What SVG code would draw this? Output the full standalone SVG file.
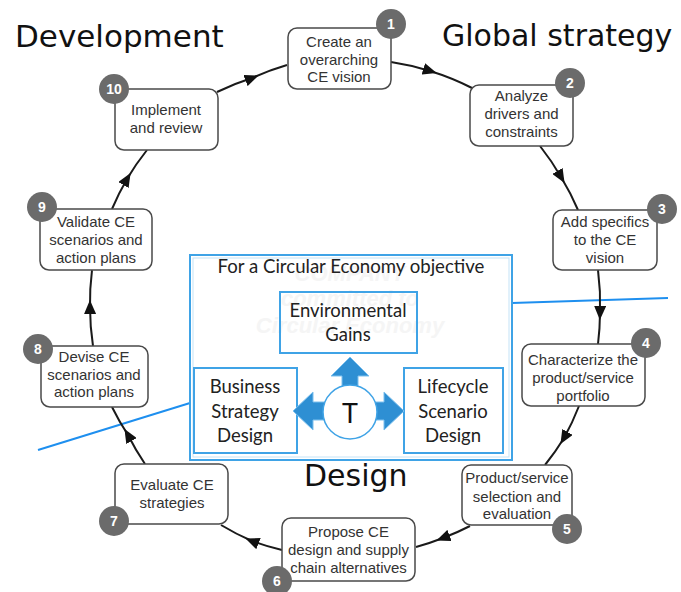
<svg xmlns="http://www.w3.org/2000/svg" width="681" height="592" viewBox="0 0 681 592">
<defs>
<style>
.title{font-family:"DejaVu Sans",sans-serif;font-size:30px;fill:#111}
.box{fill:#fff;stroke:#4a4a4a;stroke-width:1.5}
.lbl{font-family:"Liberation Sans",Arial,sans-serif;font-size:15px;fill:#333;text-anchor:middle}
.badge{fill:#6b6b6b}
.num{font-family:"Liberation Sans",Arial,sans-serif;font-size:14px;font-weight:bold;fill:#fff;text-anchor:middle}
.conn{fill:none;stroke:#1a1a1a;stroke-width:2;marker-mid:url(#arr)}
.bbox{fill:#fff;stroke:#3fa3e6;stroke-width:2}
.bin{fill:none;stroke:#c4e3f7;stroke-width:1}
.btxt{font-family:Lato,"Open Sans",sans-serif;font-size:18.5px;fill:#222;text-anchor:middle}
.wm{font-family:"Liberation Sans",Arial,sans-serif;font-size:22px;font-weight:bold;font-style:italic;fill:#f5f5f5;text-anchor:middle}
.blarr{fill:#2e8fd3;stroke:#7cc0ee;stroke-width:1}
.bline{stroke:#1e8fef;stroke-width:2;fill:none}
</style>
<marker id="arr" markerUnits="userSpaceOnUse" markerWidth="14" markerHeight="12" refX="7" refY="6" orient="auto">
<path d="M0,0 L14,6 L0,12 z" fill="#111"/>
</marker>
</defs>
<rect width="681" height="592" fill="#fff"/>

<g id="titles">
<text class="title" x="15" y="47" style="font-size:31px">Development</text>
<text class="title" x="442" y="46">Global strategy</text>
<text class="title" x="304" y="486">Design</text>
</g>

<g id="blue-lines">
<line class="bline" x1="512" y1="303" x2="668" y2="298"/>
<line class="bline" x1="38" y1="450" x2="190" y2="403"/>
</g>

<g id="center">
<rect class="bbox" x="190" y="255" width="322" height="205"/>
<rect class="bin" x="193" y="258" width="316" height="199"/>
<text class="wm" x="350" y="281">COMPANY</text>
<text class="wm" x="350" y="306">committed to</text>
<text class="wm" x="350" y="333">Circular Economy</text>
<text class="btxt" x="351" y="273" style="font-size:18.6px">For a Circular Economy objective</text>
<g id="env">
<rect x="280" y="292" width="137" height="61" fill="none" stroke="#3fa3e6" stroke-width="2"/>
<text class="btxt" x="348" y="317">Environmental</text>
<text class="btxt" x="348" y="341">Gains</text>
</g>
<g id="bsd">
<rect x="194" y="368" width="103" height="85" fill="none" stroke="#3fa3e6" stroke-width="2"/>
<text class="btxt" x="245" y="393">Business</text>
<text class="btxt" x="245" y="418">Strategy</text>
<text class="btxt" x="245" y="442">Design</text>
</g>
<g id="lsd">
<rect x="404" y="368" width="99" height="85" fill="none" stroke="#3fa3e6" stroke-width="2"/>
<text class="btxt" x="453" y="393">Lifecycle</text>
<text class="btxt" x="453" y="418">Scenario</text>
<text class="btxt" x="453" y="442">Design</text>
</g>
<g id="t-hub">
<path class="blarr" d="M350,357 L369,376 L358,376 L358,392 L342,392 L342,376 L331,376 Z"/>
<path class="blarr" d="M293,411 L313,392 L313,402 L330,402 L330,420 L313,420 L313,430 Z"/>
<path class="blarr" d="M404,411 L384,392 L384,402 L368,402 L368,420 L384,420 L384,430 Z"/>
<circle cx="350" cy="412" r="27" fill="#fff" stroke="#3fa3e6" stroke-width="1.5"/>
<text x="350" y="423" style="font-family:Lato,'Open Sans',sans-serif;font-size:27px;fill:#111;text-anchor:middle">T</text>
</g>
</g>

<g id="connectors">
<path class="conn" d="M217,92 A260,260 0 0 1 252,78 A260,260 0 0 1 287,65"/>
<path class="conn" d="M391,62 A260,260 0 0 1 430,71 A260,260 0 0 1 472,88"/>
<path class="conn" d="M540,146 A260,260 0 0 1 561,177 A260,260 0 0 1 578,210"/>
<path class="conn" d="M598,270 A260,260 0 0 1 600,313 A260,260 0 0 1 598,344"/>
<path class="conn" d="M579,406 A260,260 0 0 1 564,438 A260,260 0 0 1 545,465"/>
<path class="conn" d="M470,526 A260,260 0 0 1 443,538 A260,260 0 0 1 416,547"/>
<path class="conn" d="M282,550 A260,260 0 0 1 252,541 A260,260 0 0 1 221,525"/>
<path class="conn" d="M145,464 A260,260 0 0 1 128,435 A260,260 0 0 1 112,407"/>
<path class="conn" d="M93,346 A260,260 0 0 1 90,307 A260,260 0 0 1 92,270"/>
<path class="conn" d="M112,209 A260,260 0 0 1 127,179 A260,260 0 0 1 147,150"/>
</g>

<g id="n1">
<rect class="box" x="288" y="28" width="103" height="61" rx="9"/>
<text class="lbl" x="339" y="47">Create an</text>
<text class="lbl" x="339" y="64.5">overarching</text>
<text class="lbl" x="339" y="82">CE vision</text>
<circle class="badge" cx="391" cy="24" r="15"/><text class="num" x="391" y="29">1</text>
</g>
<g id="n2">
<rect class="box" x="470" y="85" width="103" height="61" rx="9"/>
<text class="lbl" x="521.5" y="101">Analyze</text>
<text class="lbl" x="521.5" y="119">drivers and</text>
<text class="lbl" x="521.5" y="137">constraints</text>
<circle class="badge" cx="570" cy="83" r="15"/><text class="num" x="570" y="88">2</text>
</g>
<g id="n3">
<rect class="box" x="553" y="210" width="104" height="60" rx="9"/>
<text class="lbl" x="605" y="227">Add specifics</text>
<text class="lbl" x="605" y="245">to the CE</text>
<text class="lbl" x="605" y="263">vision</text>
<circle class="badge" cx="662" cy="209" r="15"/><text class="num" x="662" y="214">3</text>
</g>
<g id="n4">
<rect class="box" x="522" y="344" width="123" height="62" rx="9"/>
<text class="lbl" x="583" y="365">Characterize the</text>
<text class="lbl" x="583" y="383">product/service</text>
<text class="lbl" x="583" y="401">portfolio</text>
<circle class="badge" cx="646" cy="343" r="15"/><text class="num" x="646" y="348">4</text>
</g>
<g id="n5">
<rect class="box" x="462" y="465" width="110" height="60" rx="9"/>
<text class="lbl" x="517" y="483">Product/service</text>
<text class="lbl" x="517" y="502">selection and</text>
<text class="lbl" x="517" y="519">evaluation</text>
<circle class="badge" cx="567" cy="529" r="15"/><text class="num" x="567" y="534">5</text>
</g>
<g id="n6">
<rect class="box" x="282" y="518" width="133" height="63" rx="9"/>
<text class="lbl" x="348.5" y="537">Propose CE</text>
<text class="lbl" x="348.5" y="555">design and supply</text>
<text class="lbl" x="348.5" y="573">chain alternatives</text>
<circle class="badge" cx="277" cy="581" r="15"/><text class="num" x="277" y="586">6</text>
</g>
<g id="n7">
<rect class="box" x="115" y="464" width="113" height="60" rx="9"/>
<text class="lbl" x="172" y="490">Evaluate CE</text>
<text class="lbl" x="172" y="508">strategies</text>
<circle class="badge" cx="114" cy="521" r="15"/><text class="num" x="114" y="526">7</text>
</g>
<g id="n8">
<rect class="box" x="41" y="346" width="107" height="61" rx="9"/>
<text class="lbl" x="94" y="362">Devise CE</text>
<text class="lbl" x="94" y="380">scenarios and</text>
<text class="lbl" x="94" y="397">action plans</text>
<circle class="badge" cx="38" cy="349" r="15"/><text class="num" x="38" y="354">8</text>
</g>
<g id="n9">
<rect class="box" x="40" y="209" width="112" height="61" rx="9"/>
<text class="lbl" x="96" y="227">Validate CE</text>
<text class="lbl" x="96" y="245">scenarios and</text>
<text class="lbl" x="96" y="263">action plans</text>
<circle class="badge" cx="42" cy="207" r="15"/><text class="num" x="42" y="212">9</text>
</g>
<g id="n10">
<rect class="box" x="115" y="89" width="103" height="61" rx="9"/>
<text class="lbl" x="166" y="115">Implement</text>
<text class="lbl" x="166" y="133">and review</text>
<circle class="badge" cx="114" cy="89" r="15"/><text class="num" x="114" y="94">10</text>
</g>
</svg>
